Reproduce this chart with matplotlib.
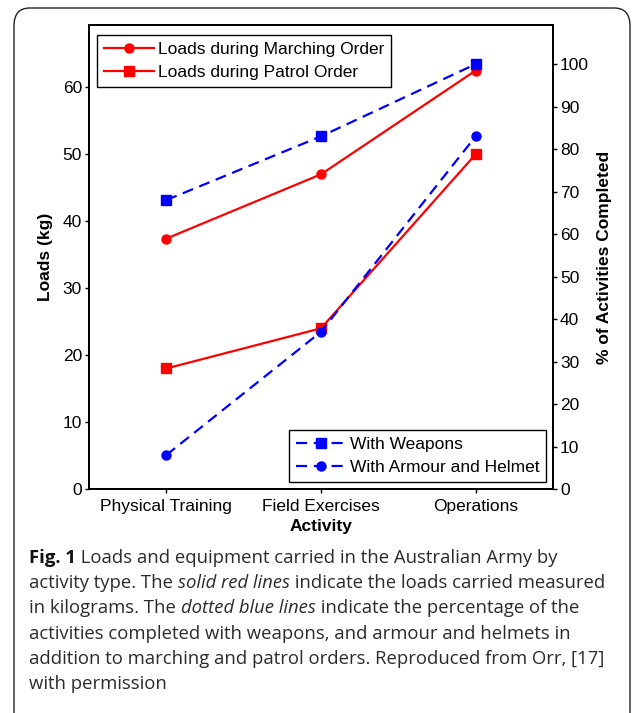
import matplotlib
matplotlib.use("Agg")
import matplotlib.pyplot as plt
from matplotlib.patches import FancyBboxPatch
from matplotlib.lines import Line2D

# data
activities = ["Physical Training", "Field Exercises", "Operations"]
marching_kg = [37.4, 47.0, 62.5]
patrol_kg = [18.0, 24.0, 50.0]
weapons_pct = [68, 83, 100]
armour_pct = [8, 37, 83]

load_ticks = [0, 10, 20, 30, 40, 50, 60]
pct_ticks = [0, 10, 20, 30, 40, 50, 60, 70, 80, 90, 100]

caption_lines = [
    [("Fig. 1", "bold"), (" Loads and equipment carried in the Australian Army by", "normal")],
    [("activity type. The ", "normal"), ("solid red lines", "italic"),
     (" indicate the loads carried measured", "normal")],
    [("in kilograms. The ", "normal"), ("dotted blue lines", "italic"),
     (" indicate the percentage of the", "normal")],
    [("activities completed with weapons, and armour and helmets in", "normal")],
    [("addition to marching and patrol orders. Reproduced from Orr, [17]", "normal")],
    [("with permission", "normal")],
]

W, H = 633, 713
plt.rcParams['font.family'] = ['Liberation Sans', 'DejaVu Sans']
fig = plt.figure(figsize=(W / 100, H / 100), dpi=100)

# rounded frame around figure + caption
frame = FancyBboxPatch((14 / W, -20 / H), (630 - 14) / W, (713 - 8 + 20) / H,
                       boxstyle="round,pad=0,rounding_size=0.025",
                       transform=fig.transFigure, facecolor="none",
                       edgecolor="#222222", linewidth=1.0)
fig.patches.append(frame)

fs = 12.5
x = [1, 2, 3]
ax = fig.add_axes([89 / W, (H - 489) / H, (553 - 89) / W, (489 - 25) / H])
ax2 = ax.twinx()

ax.plot(x, marching_kg, "-", color="red", marker="o", ms=6.5, lw=1.6)
ax.plot(x, patrol_kg, "-", color="red", marker="s", ms=7.5, lw=1.6)
ax2.plot(x, weapons_pct, "--", color="blue", marker="s", ms=7.5, lw=1.6, dashes=(5, 3))
ax2.plot(x, armour_pct, "--", color="blue", marker="o", ms=6.5, lw=1.6, dashes=(5, 3))

ax.set_xlim(0.5, 3.5)
ax.set_ylim(0, 69.3)
ax2.set_ylim(0, 109.2)
ax.set_xticks(x)
ax.set_xticklabels(activities)
ax.set_yticks(load_ticks)
ax2.set_yticks(pct_ticks)

for a in (ax, ax2):
    a.tick_params(direction="out", length=3, width=1, labelsize=fs, pad=2)
    for s in a.spines.values():
        s.set_linewidth(1.4)
ax.tick_params(axis="x", pad=4)

ax.set_xlabel("Activity", fontsize=fs, fontweight="bold", labelpad=4)
ax.set_ylabel("Loads (kg)", fontsize=fs, fontweight="bold", labelpad=7)
ax2.set_ylabel("% of Activities Completed", fontsize=fs, fontweight="bold", labelpad=6)

h1 = [Line2D([], [], color="red", marker="o", ms=6.5, lw=1.6),
      Line2D([], [], color="red", marker="s", ms=7.5, lw=1.6)]
h2 = [Line2D([], [], color="blue", ls="--", marker="s", ms=7.5, lw=1.6, dashes=(5, 3)),
      Line2D([], [], color="blue", ls="--", marker="o", ms=6.5, lw=1.6, dashes=(5, 3))]

leg_kw = dict(bbox_transform=fig.transFigure, fontsize=fs, fancybox=False,
              edgecolor="black", framealpha=1, borderaxespad=0, handlelength=2.9,
              handletextpad=0.2, labelspacing=0.45, borderpad=0.4)
leg1 = ax2.legend(h1, ["Loads during Marching Order", "Loads during Patrol Order"],
                  loc="upper left", bbox_to_anchor=(97 / W, 1 - 35 / H), **leg_kw)
leg1.get_frame().set_linewidth(1.0)
ax2.add_artist(leg1)
leg2 = ax2.legend(h2, ["With Weapons", "With Armour and Helmet"],
                  loc="lower right", bbox_to_anchor=(546 / W, 1 - 482 / H), **leg_kw)
leg2.get_frame().set_linewidth(1.0)

# caption with mixed styles
renderer = fig.canvas.get_renderer()
cap_size = 13.3
y0 = 558
for i, line in enumerate(caption_lines):
    xp = 29
    yp = y0 + i * 25.2
    for txt, style in line:
        kw = dict(fontsize=cap_size, va="center", ha="left",
                  family=["Open Sans", "DejaVu Sans"], color="#2b2b2b")
        if style == "bold":
            kw["fontweight"] = "bold"
            kw["color"] = "#111111"
        elif style == "italic":
            kw["fontstyle"] = "italic"
        t = fig.text(xp / W, 1 - yp / H, txt, **kw)
        bb = t.get_window_extent(renderer=renderer)
        xp += bb.width

fig.savefig("out.png", dpi=100)
